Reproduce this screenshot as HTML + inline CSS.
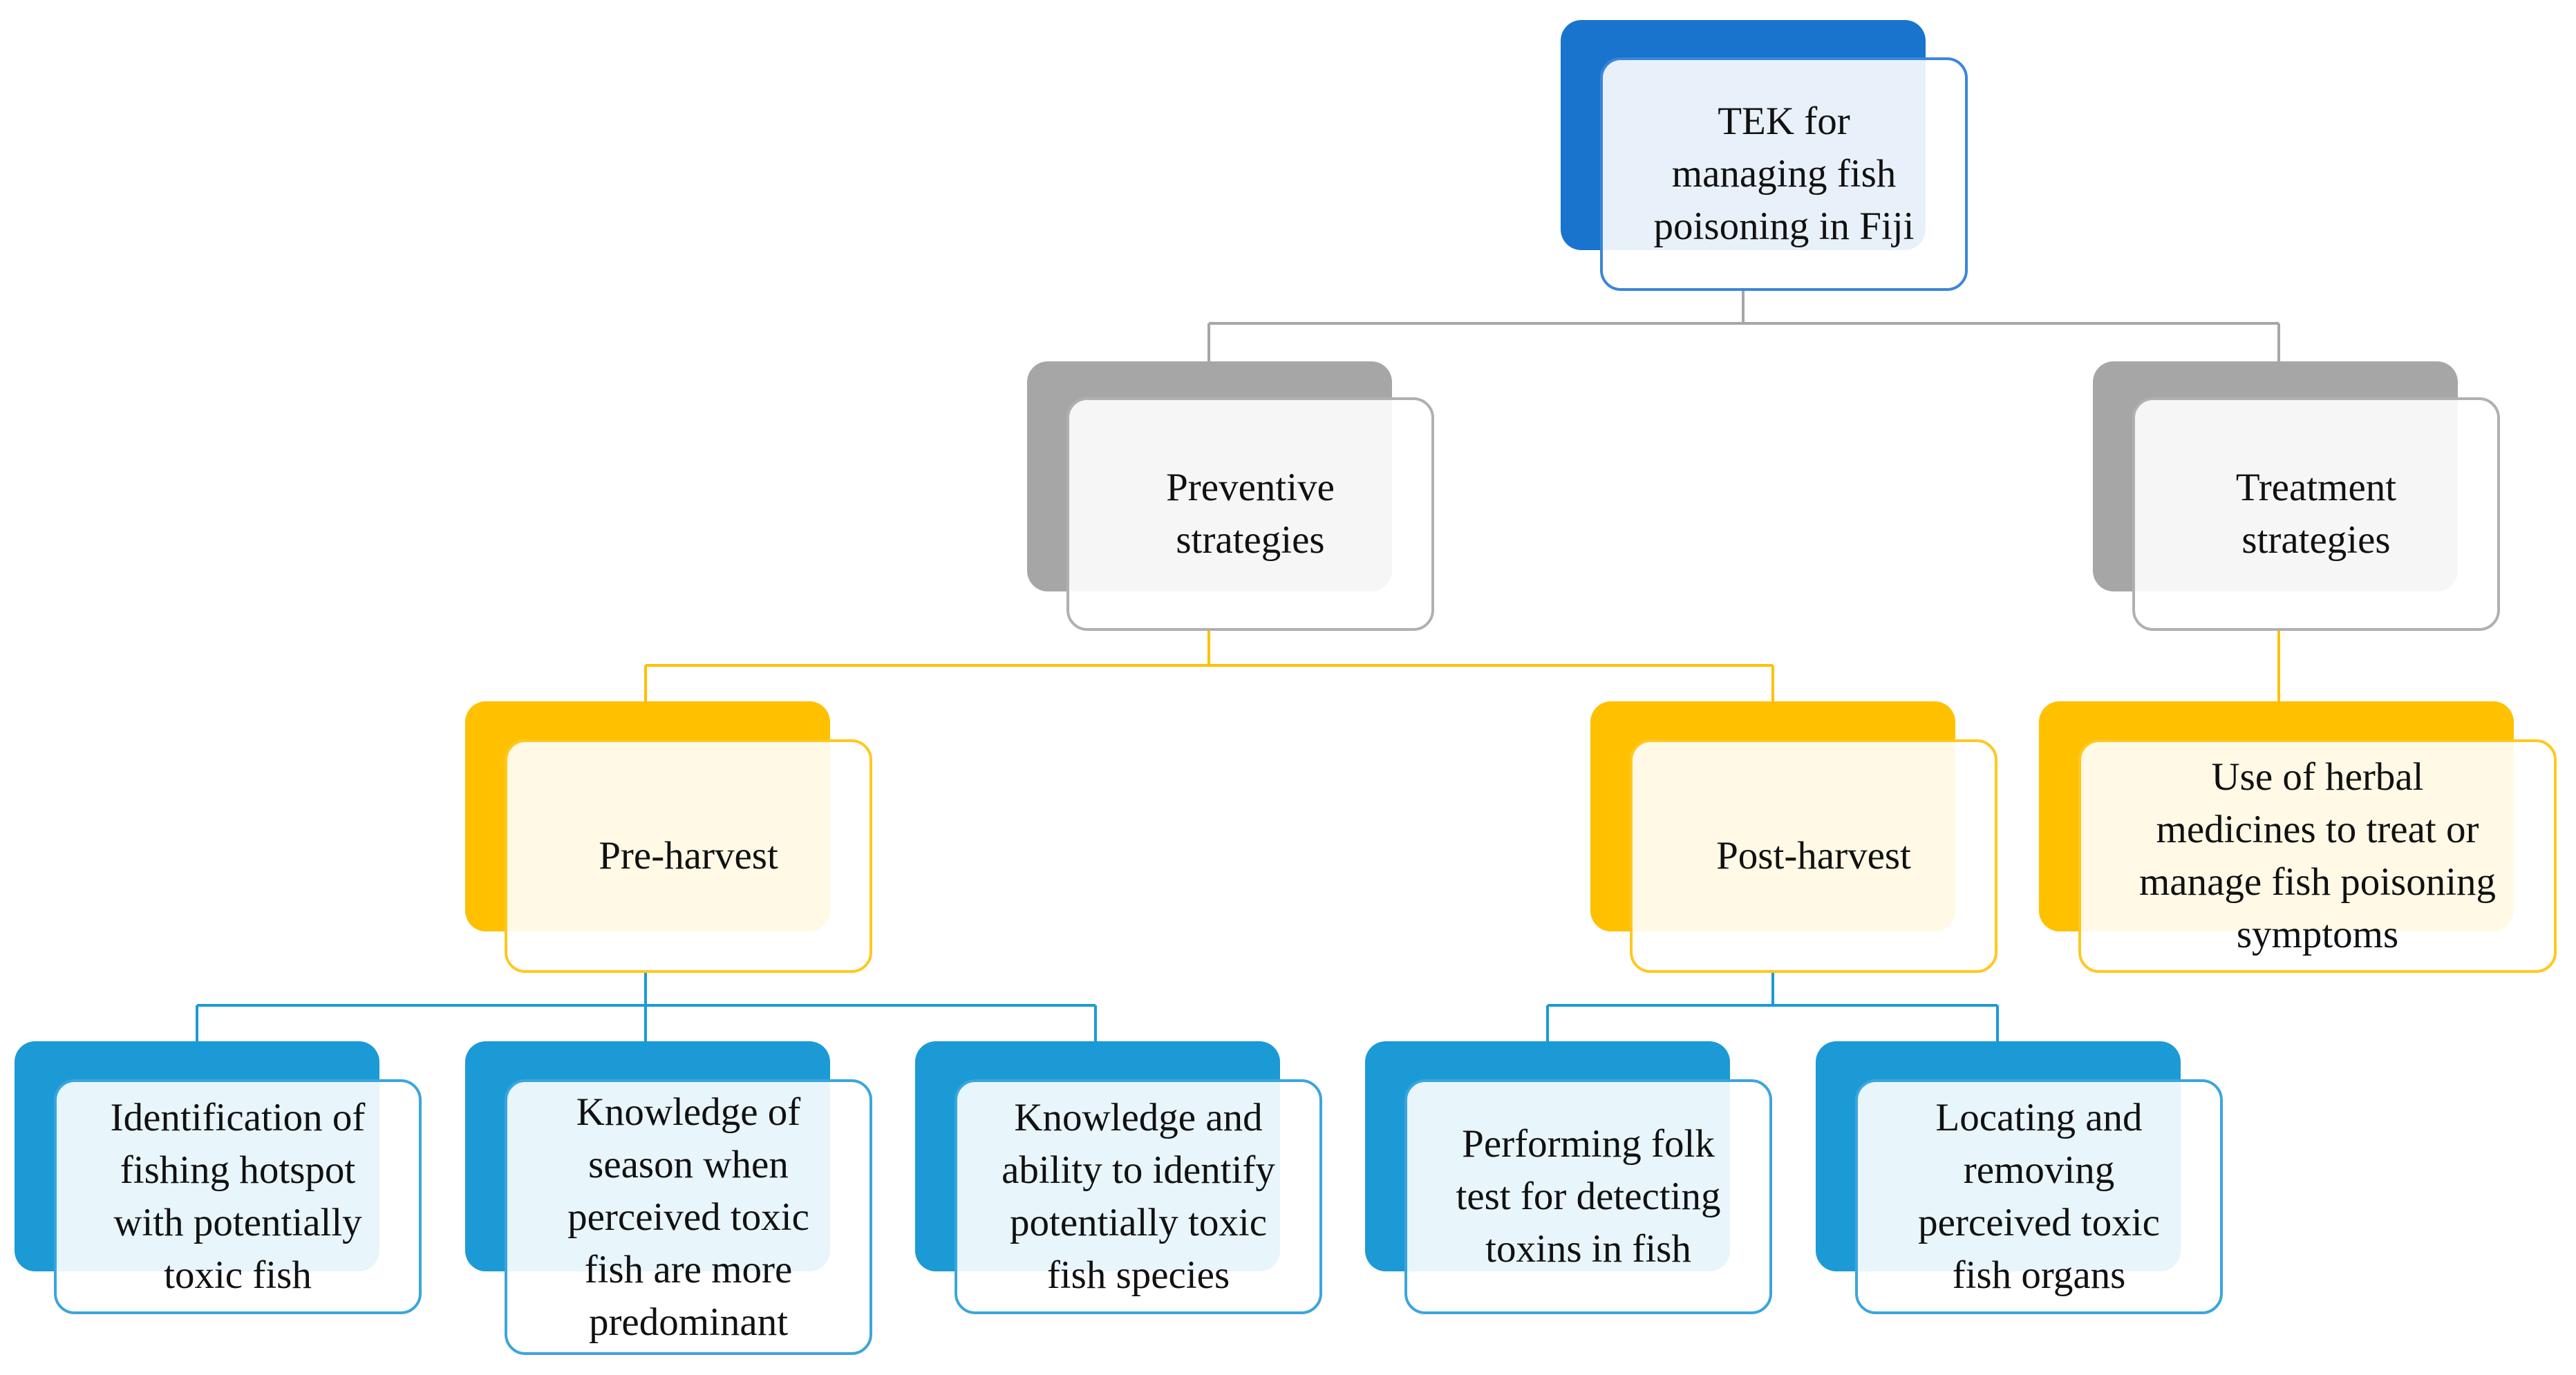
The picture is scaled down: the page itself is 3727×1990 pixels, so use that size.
<!DOCTYPE html>
<html><head><meta charset="utf-8"><style>
html,body{margin:0;padding:0;background:#fff;}
body{width:3727px;height:1990px;position:relative;overflow:hidden;font-family:"Liberation Serif",serif;}
.b{position:absolute;border-radius:30px;}
.f{position:absolute;border-radius:30px;background:rgba(255,255,255,0.9);border:4px solid;box-sizing:border-box;display:flex;align-items:center;justify-content:center;text-align:center;font-size:57px;line-height:76px;color:#111;white-space:nowrap;}
.dk{background:#1874CD}.dkf{border-color:#3A86DA}
.gy{background:#A6A6A6}.gyf{border-color:#B0B0B0}
.yl{background:#FFC000}.ylf{border-color:#FFC81F}
.bl{background:#1B9AD6}.blf{border-color:#3BA5DD}
</style></head><body>
<svg width="3727" height="1990" style="position:absolute;left:0;top:0">
<g fill="none" stroke-width="4">
<path d="M2522 421V468M1749 468H3297M1749 468V523M3297 468V523" stroke="#A6A6A6"/>
<path d="M1749 913V963M934 963H2565M934 963V1015M2565 963V1015M3297 913V1015" stroke="#FFC000"/>
<path d="M934 1407V1455M285 1455H1585M285 1455V1507M934 1455V1507M1585 1455V1507" stroke="#1B9AD6"/>
<path d="M2565 1407V1455M2239 1455H2890M2239 1455V1507M2890 1455V1507" stroke="#1B9AD6"/>
</g></svg>

<div class="b dk" style="left:2258px;top:29px;width:528px;height:333px"></div>
<div class="f dkf" style="left:2315px;top:83px;width:532px;height:338px">TEK for<br>managing fish<br>poisoning in Fiji</div>

<div class="b gy" style="left:1486px;top:523px;width:528px;height:333px"></div>
<div class="f gyf" style="left:1543px;top:575px;width:532px;height:338px">Preventive<br>strategies</div>
<div class="b gy" style="left:3028px;top:523px;width:528px;height:333px"></div>
<div class="f gyf" style="left:3085px;top:575px;width:532px;height:338px">Treatment<br>strategies</div>

<div class="b yl" style="left:673px;top:1015px;width:528px;height:333px"></div>
<div class="f ylf" style="left:730px;top:1070px;width:532px;height:338px">Pre-harvest</div>
<div class="b yl" style="left:2301px;top:1015px;width:528px;height:333px"></div>
<div class="f ylf" style="left:2358px;top:1070px;width:532px;height:338px">Post-harvest</div>
<div class="b yl" style="left:2950px;top:1015px;width:687px;height:333px"></div>
<div class="f ylf" style="left:3007px;top:1070px;width:692px;height:338px">Use of herbal<br>medicines to treat or<br>manage fish poisoning<br>symptoms</div>

<div class="b bl" style="left:21px;top:1507px;width:528px;height:333px"></div>
<div class="f blf" style="left:78px;top:1562px;width:532px;height:340px">Identification of<br>fishing hotspot<br>with potentially<br>toxic fish</div>
<div class="b bl" style="left:673px;top:1507px;width:528px;height:333px"></div>
<div class="f blf" style="left:730px;top:1562px;width:532px;height:399px">Knowledge of<br>season when<br>perceived toxic<br>fish are more<br>predominant</div>
<div class="b bl" style="left:1324px;top:1507px;width:528px;height:333px"></div>
<div class="f blf" style="left:1381px;top:1562px;width:532px;height:340px">Knowledge and<br>ability to identify<br>potentially toxic<br>fish species</div>
<div class="b bl" style="left:1975px;top:1507px;width:528px;height:333px"></div>
<div class="f blf" style="left:2032px;top:1562px;width:532px;height:340px">Performing folk<br>test for detecting<br>toxins in fish</div>
<div class="b bl" style="left:2627px;top:1507px;width:528px;height:333px"></div>
<div class="f blf" style="left:2684px;top:1562px;width:532px;height:340px">Locating and<br>removing<br>perceived toxic<br>fish organs</div>
</body></html>
